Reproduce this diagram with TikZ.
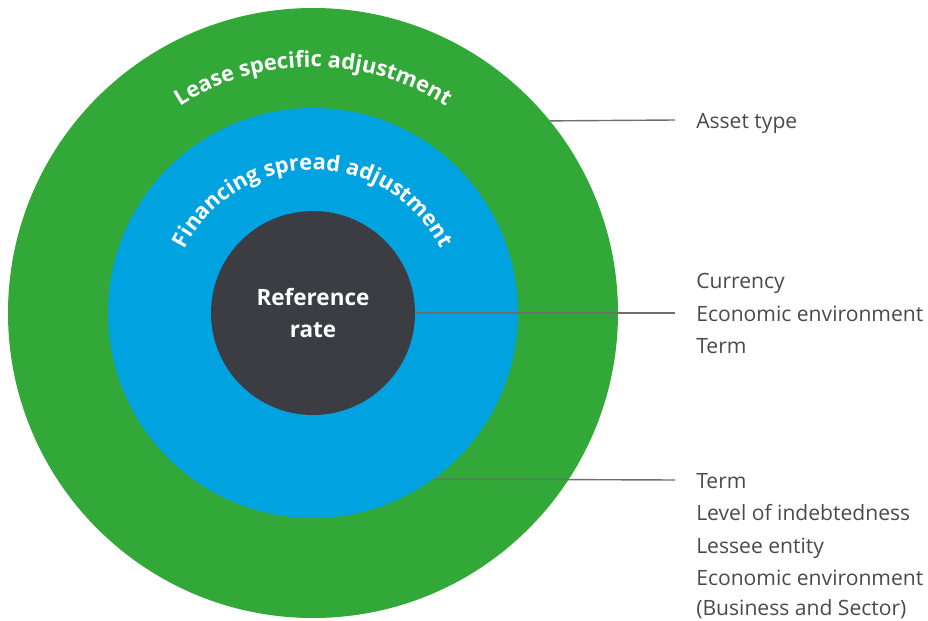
\documentclass[tikz,border=0pt]{standalone}
\usepackage{fontspec}
\setmainfont{Open Sans}
\usetikzlibrary{positioning,decorations.text}

\definecolor{ringgreen}{HTML}{31A838}
\definecolor{ringblue}{HTML}{00A3E0}
\definecolor{coredark}{HTML}{3C3D42}
\definecolor{linegray}{HTML}{6E6E73}
\definecolor{labelgray}{HTML}{4A4A4A}

\tikzset{
    ring/.style={circle, inner sep=0pt, minimum size=#1},
    fact/.style={anchor=west, inner sep=0pt, text height=0.6cm, text depth=0.2cm,
        text=labelgray, font=\fontsize{15}{18}\selectfont},
    leader/.style={draw=linegray, line width=1pt},
    ringtext/.style={decorate, decoration={text along path, text align=center,
        text color=white, text={|\fontsize{15.5}{18}\selectfont\bfseries|#1}}}
}

\begin{document}
\begin{tikzpicture}
    \useasboundingbox (-7.825,-7.7) rectangle (15.375,7.825);

    %%% Rings %%%

    \node[ring=15.25cm, fill=ringgreen] (lease) at (0,0) {};
    \node[ring=10.25cm, fill=ringblue] (spread) at (0,0) {};
    \node[ring=5.1cm, fill=coredark, text=white, align=center,
        font=\fontsize{16}{22.76}\selectfont\bfseries] (ref) at (0,0) {Reference\\rate};

    \path[ringtext={Lease specific adjustment}] (150:6.15) arc[start angle=150, end angle=30, radius=6.15];
    \path[ringtext={Financing spread adjustment}] (165:3.575) arc[start angle=165, end angle=15, radius=3.575];

    %%% Factors %%%

    \node[fact] (asset) at (9.575,4.825) {Asset type};

    \node[fact] (env) at (9.575,0) {Economic environment};
    \node[fact, above=0pt of env.north west, anchor=south west] (cur) {Currency};
    \node[fact, below=0pt of env.south west, anchor=north west] (term) {Term};

    \node[fact] (lterm) at (9.575,-4.175) {Term};
    \node[fact, below=0pt of lterm.south west, anchor=north west] (debt) {Level of indebtedness};
    \node[fact, below=0pt of debt.south west, anchor=north west] (lessee) {Lessee entity};
    \node[fact, below=0pt of lessee.south west, anchor=north west] (econ) {Economic environment};
    \node[fact, below=-0.075cm of econ.south west, anchor=north west] (sector) {(Business and Sector)};

    \draw[leader] (lease.39.26) -- ([xshift=-0.525cm]asset.west);
    \draw[leader] (ref.east) -- ([xshift=-0.525cm]env.west);
    \draw[leader] (spread.-54.5) -- ([xshift=-0.525cm]lterm.west);

\end{tikzpicture}
\end{document}
